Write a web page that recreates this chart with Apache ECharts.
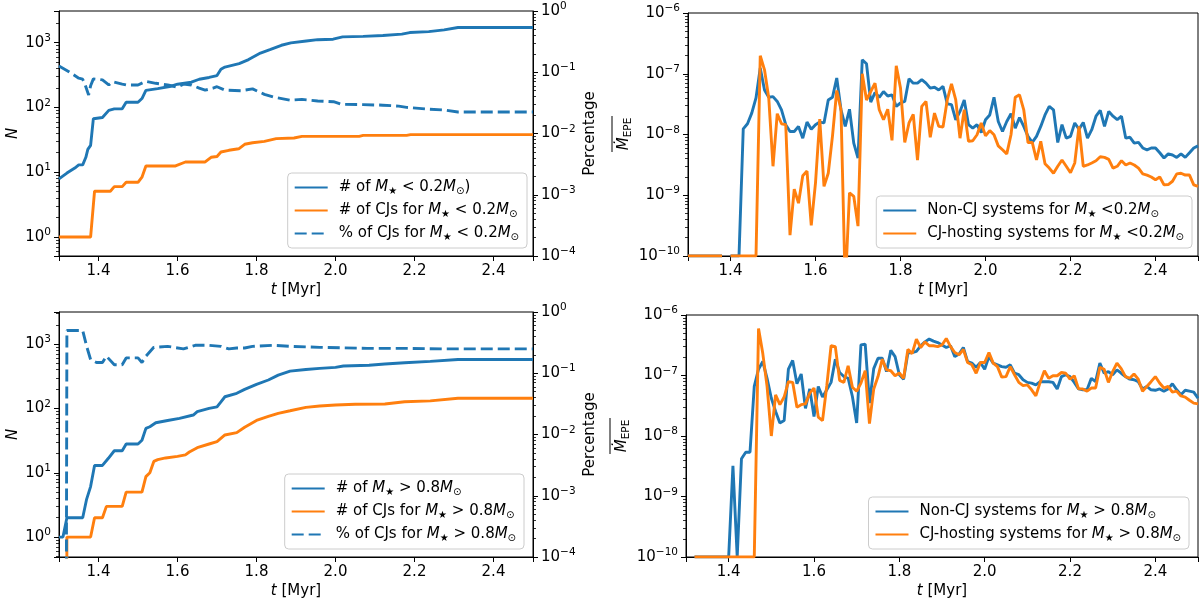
<!DOCTYPE html>
<html>
<head>
<meta charset="utf-8">
<script src="https://cdn.jsdelivr.net/npm/echarts@6/dist/echarts.min.js"></script>
<style>
html,body{margin:0;padding:0;background:#fff}
#chart{width:1200px;height:602px}
</style>
</head>
<body>
<div id="chart"></div>
<script>
// ---------- data ----------
// top-left: M* < 0.2 Msun, [t, value] vertices of the step-like curves
var tlAllT = [1.30,1.32,1.34,1.35,1.36,1.368,1.373,1.38,1.387,1.41,1.426,1.44,1.46,1.47,1.50,1.51,1.52,1.55,1.58,1.60,1.635,1.655,1.68,1.70,1.71,1.72,1.756,1.78,1.81,1.834,1.863,1.887,1.926,1.955,1.994,2.018,2.07,2.12,2.168,2.188,2.236,2.275,2.31,2.50];
var tlAllN = [7.9,9.7,11.6,13,13,17,22.5,26,67,70,90,95,95,120,120,137,183,195,210,228,245,272,290,310,388,420,475,547,690,780,910,990,1060,1110,1130,1225,1250,1290,1350,1430,1480,1570,1710,1710];
var tlCjT = [1.30,1.38,1.39,1.43,1.44,1.46,1.47,1.50,1.51,1.52,1.595,1.62,1.67,1.685,1.70,1.71,1.73,1.755,1.77,1.79,1.82,1.85,1.895,1.915,2.06,2.07,2.18,2.19,2.50];
var tlCjN = [1,1,5.1,5.1,6,6,7,7,8.4,12.5,12.5,14.4,14.4,17,17.5,20.5,21.8,23,27,28.5,30,33,33.8,35.8,35.8,37,37,38,38];
var tlPctT = [1.30,1.325,1.35,1.36,1.367,1.375,1.38,1.387,1.41,1.426,1.436,1.46,1.47,1.50,1.52,1.545,1.575,1.60,1.615,1.635,1.655,1.67,1.69,1.70,1.72,1.76,1.79,1.82,1.845,1.885,1.915,1.955,1.995,2.015,2.07,2.12,2.16,2.18,2.235,2.275,2.31,2.50];
var tlPct = [0.126,0.102,0.08,0.077,0.06,0.0425,0.06,0.078,0.075,0.062,0.070,0.064,0.062,0.062,0.071,0.066,0.062,0.057,0.064,0.062,0.055,0.051,0.055,0.058,0.051,0.050,0.0535,0.0436,0.039,0.035,0.036,0.034,0.033,0.030,0.0296,0.029,0.028,0.0267,0.025,0.0242,0.0224,0.0224];

// bottom-left: M* > 0.8 Msun (1e-30 stands for a zero count, clipped on the log axis)
var blAllT = [1.30,1.31,1.32,1.36,1.37,1.38,1.39,1.41,1.425,1.44,1.46,1.47,1.50,1.51,1.52,1.53,1.545,1.575,1.605,1.64,1.65,1.68,1.70,1.71,1.72,1.75,1.77,1.80,1.83,1.855,1.885,1.925,1.96,2.00,2.02,2.085,2.125,2.175,2.24,2.31,2.50];
var blAllN = [1,1,2,2,3.9,6.1,13,13,16.8,22,22,28,28,32,49,52,60,65,70,79,89,100,106,127,152,172,198,237,277,330,380,404,420,435,457,470,490,513,540,578,578];
var blCjT = [1.31,1.32,1.38,1.39,1.41,1.42,1.46,1.47,1.51,1.52,1.53,1.54,1.55,1.57,1.60,1.62,1.63,1.65,1.68,1.70,1.72,1.75,1.77,1.80,1.83,1.855,1.885,1.925,1.96,2.00,2.05,2.125,2.175,2.24,2.31,2.50];
var blCjN = [1e-30,1,1,2,2,3,3,5,5,8.7,10,15,16,17,18,19,21,24.5,28,30.5,38.7,42,51,65,75,84,92,104,109,113,116,117,127,131,144,144];
var blPctT = [1.31,1.32,1.36,1.37,1.38,1.395,1.41,1.42,1.44,1.46,1.47,1.50,1.51,1.52,1.54,1.575,1.615,1.645,1.68,1.71,1.73,1.75,1.77,1.79,1.84,1.885,1.96,2.08,2.175,2.27,2.50];
var blPct = [1e-30,0.5,0.5,0.275,0.167,0.15,0.15,0.19,0.138,0.138,0.178,0.178,0.15,0.19,0.265,0.275,0.25,0.286,0.286,0.275,0.25,0.258,0.258,0.275,0.286,0.275,0.265,0.255,0.255,0.25,0.25];

// right panels: mean EPE rate sampled every 0.01 Myr
var tGrid = [
  1.30,1.31,1.32,1.33,1.34,1.35,1.36,1.37,1.38,1.39,
  1.40,1.41,1.42,1.43,1.44,1.45,1.46,1.47,1.48,1.49,
  1.50,1.51,1.52,1.53,1.54,1.55,1.56,1.57,1.58,1.59,
  1.60,1.61,1.62,1.63,1.64,1.65,1.66,1.67,1.68,1.69,
  1.70,1.71,1.72,1.73,1.74,1.75,1.76,1.77,1.78,1.79,
  1.80,1.81,1.82,1.83,1.84,1.85,1.86,1.87,1.88,1.89,
  1.90,1.91,1.92,1.93,1.94,1.95,1.96,1.97,1.98,1.99,
  2.00,2.01,2.02,2.03,2.04,2.05,2.06,2.07,2.08,2.09,
  2.10,2.11,2.12,2.13,2.14,2.15,2.16,2.17,2.18,2.19,
  2.20,2.21,2.22,2.23,2.24,2.25,2.26,2.27,2.28,2.29,
  2.30,2.31,2.32,2.33,2.34,2.35,2.36,2.37,2.38,2.39,
  2.40,2.41,2.42,2.43,2.44,2.45,2.46,2.47,2.48,2.49,
  2.50];
var trNonCj = [
  1e-10,1e-10,1e-10,1e-10,1e-10,1e-10,1e-10,1e-10,1e-10,null,
  1e-10,1e-10,1e-10,1.24e-8,1.5e-8,2.25e-8,4e-8,1.24e-7,5.4e-8,4.1e-8,
  4.2e-8,3.5e-8,2.55e-8,1.45e-8,1.12e-8,1.12e-8,1.36e-8,8.7e-9,1.6e-8,1.22e-8,
  1.45e-8,1.6e-8,1.55e-8,3.7e-8,4.1e-8,8.5e-8,2.55e-8,1.36e-8,2.6e-8,7.2e-9,
  4.1e-9,1.7e-7,1.46e-7,3.4e-8,4.9e-8,4.1e-8,5.1e-8,4.3e-8,4.5e-8,2.9e-8,
  3.3e-8,3.5e-8,8.3e-8,7e-8,7e-8,8e-8,7e-8,5.8e-8,6e-8,5.4e-8,
  6.2e-8,3.2e-8,3.1e-8,1.75e-8,2.4e-8,3.7e-8,1.45e-8,1.27e-8,1.45e-8,1.08e-8,
  1.75e-8,2.1e-8,4.1e-8,1.64e-8,1.12e-8,1.64e-8,2.2e-8,1.27e-8,1.9e-8,1.36e-8,
  9.3e-9,7.4e-9,9.3e-9,1.36e-8,2.1e-8,2.9e-8,2.55e-8,7.4e-9,1.45e-8,8.7e-9,
  9.3e-9,1.55e-8,1.22e-8,1.58e-8,8.7e-9,1.2e-8,2e-8,2.5e-8,1.36e-8,2.4e-8,
  2e-8,1.75e-8,2e-8,8.7e-9,9e-9,7.2e-9,7.4e-9,6e-9,5.6e-9,6e-9,
  6e-9,5e-9,4.1e-9,4.8e-9,4.6e-9,4.2e-9,4.8e-9,4.2e-9,5e-9,6e-9,
  6.5e-9];
var trCj = [
  1e-10,1e-10,1e-10,1e-10,1e-10,1e-10,1e-10,1e-10,1e-10,null,
  1e-10,1e-10,1e-10,1e-10,1e-10,1e-10,1e-10,1.98e-7,1.16e-7,4e-8,
  3e-9,2.2e-8,1.5e-8,1.45e-8,2.2e-10,1.26e-9,7.4e-10,2.1e-9,2.5e-9,3.2e-10,
  1.6e-9,1.8e-8,1.4e-9,2.3e-9,9.5e-9,5.3e-8,2.55e-8,3e-11,1.1e-9,9.6e-10,
  3.1e-10,1e-7,3.7e-8,5.1e-8,7e-8,2.55e-8,1.75e-8,2.6e-8,8e-9,1.35e-7,
  5.8e-8,7.4e-9,1.55e-8,2.15e-8,3.8e-9,2.9e-8,3.5e-8,9e-9,2.25e-8,1.36e-8,
  1.33e-8,3.7e-8,6.8e-8,3.7e-8,8.7e-9,2.55e-8,7.7e-9,7.9e-9,9.9e-9,1.55e-8,
  9.5e-9,1.16e-8,9.9e-9,6.5e-9,5.6e-9,4.8e-9,9.9e-9,4.1e-8,4.5e-8,2.55e-8,
  7.4e-9,7.4e-9,3.8e-9,7.7e-9,3.3e-9,2.8e-9,2.3e-9,3e-9,3.8e-9,3e-9,
  2.35e-9,3.4e-9,1.36e-8,3e-9,3.15e-9,3.4e-9,3.7e-9,4.3e-9,4.2e-9,3.9e-9,
  2.8e-9,3e-9,3.7e-9,3.15e-9,3.4e-9,3.15e-9,2.8e-9,2.25e-9,2.15e-9,2e-9,
  1.8e-9,2e-9,1.48e-9,1.5e-9,1.7e-9,2.25e-9,2.3e-9,2.15e-9,2.15e-9,1.48e-9,
  1.4e-9];
var brNonCj = [
  null,null,1e-10,1e-10,1e-10,1e-10,1e-10,1e-10,1e-10,1e-10,
  1e-10,3.2e-9,1e-10,4.2e-9,5.4e-9,5.4e-9,6.6e-8,1.27e-7,1.7e-7,9e-8,
  4.2e-8,2.55e-8,1.64e-8,1.8e-8,1.27e-7,1.77e-7,7.3e-8,1.06e-7,2.86e-8,6e-8,
  2.1e-8,6.6e-8,4.4e-8,5.8e-8,7.7e-8,1.86e-7,1.12e-7,9.6e-8,9e-8,4.5e-8,
  1.64e-8,3.2e-7,3.3e-7,3.5e-8,1.3e-7,1.93e-7,1.93e-7,1.16e-7,2.6e-7,2.05e-7,
  1.03e-7,8.7e-8,2.35e-7,2.4e-7,2.5e-7,3.1e-7,3.6e-7,4e-7,3.7e-7,3.5e-7,
  3.2e-7,2.9e-7,3.1e-7,2.05e-7,2.27e-7,2.9e-7,1.7e-7,1.6e-7,1.37e-7,1.64e-7,
  1.27e-7,2.05e-7,1.6e-7,1.5e-7,1.4e-7,1.37e-7,1.5e-7,1.09e-7,1.03e-7,8.5e-8,
  7.7e-8,7.5e-8,7e-8,7.9e-8,7.9e-8,7.9e-8,7.7e-8,6e-8,9.6e-8,1.03e-7,
  9.6e-8,7.7e-8,6e-8,5.8e-8,5.8e-8,9e-8,7.9e-8,1.6e-7,1.09e-7,1.16e-7,
  1.03e-7,1.24e-7,1.09e-7,9.6e-8,8.7e-8,8.5e-8,7.9e-8,6e-8,6.6e-8,5.8e-8,
  5.7e-8,6e-8,5.5e-8,6e-8,7.3e-8,5.8e-8,4.8e-8,5.7e-8,5.5e-8,5.3e-8,
  4.2e-8];
var brCj = [
  null,null,1e-10,1e-10,1e-10,1e-10,1e-10,1e-10,1e-10,1e-10,
  1e-10,1e-10,1e-10,1e-10,1e-10,1e-10,1e-10,6e-7,2.3e-7,6.6e-8,
  1e-8,4.8e-8,3.3e-8,4.4e-8,7.9e-8,7.7e-8,3e-8,3.3e-8,3.4e-8,5.1e-8,
  6.2e-8,2.05e-8,1.8e-8,6.8e-8,3.1e-7,3e-7,8.3e-8,7.7e-8,1.45e-7,6.4e-8,
  5.5e-8,7.5e-8,1.2e-7,1.6e-8,6e-8,9.6e-8,1.86e-7,1.24e-7,1.2e-7,9.9e-8,
  1.1e-7,9e-8,2.7e-7,2.3e-7,4e-7,2.9e-7,3.6e-7,3.1e-7,3.1e-7,3e-7,
  3.2e-7,4.1e-7,3e-7,2.4e-7,2.2e-7,2.7e-7,1.64e-7,1.5e-7,1.09e-7,1.64e-7,
  1.64e-7,2.4e-7,1.6e-7,1.4e-7,9.4e-8,9.6e-8,1.4e-7,1.03e-7,7.7e-8,6.8e-8,
  7e-8,5.8e-8,4.6e-8,7.7e-8,1.2e-7,9e-8,9.9e-8,9.9e-8,1.12e-7,1.09e-7,
  8.7e-8,9.9e-8,6e-8,6e-8,5.5e-8,6.2e-8,6.2e-8,1.37e-7,1.27e-7,7.7e-8,
  1.16e-7,1.6e-7,1.3e-7,9.6e-8,9e-8,1.06e-7,8.7e-8,5.5e-8,6.6e-8,7.9e-8,
  9.6e-8,7.5e-8,6.2e-8,6.6e-8,5.3e-8,5.5e-8,4.6e-8,4.4e-8,3.9e-8,3.5e-8,
  3.4e-8];

// legend texts (rich text: i = italic M, s = subscript)
var legendText = {
  tlAll: '{g| }# of {i|M}{s|\u2605} < 0.2{i|M}{s|\u2299})',
  tlCj:  '{g| }# of CJs for {i|M}{s|\u2605} < 0.2{i|M}{s|\u2299}',
  tlPct: '{g| }% of CJs for {i|M}{s|\u2605} < 0.2{i|M}{s|\u2299}',
  trNon: '{g| }Non-CJ systems for {i|M}{s|\u2605} <0.2{i|M}{s|\u2299}',
  trCj:  '{g| }CJ-hosting systems for {i|M}{s|\u2605} <0.2{i|M}{s|\u2299}',
  blAll: '{g| }# of {i|M}{s|\u2605} > 0.8{i|M}{s|\u2299}',
  blCj:  '{g| }# of CJs for {i|M}{s|\u2605} > 0.8{i|M}{s|\u2299}',
  blPct: '{g| }% of CJs for {i|M}{s|\u2605} > 0.8{i|M}{s|\u2299}',
  brNon: '{g| }Non-CJ systems for {i|M}{s|\u2605} > 0.8{i|M}{s|\u2299}',
  brCj:  '{g| }CJ-hosting systems for {i|M}{s|\u2605} > 0.8{i|M}{s|\u2299}'
};

// ---------- helpers ----------
var BLUE = '#1f77b4', ORANGE = '#ff7f0e';
var FONT = 'DejaVu Sans';

function zip(xs, ys) {
  var out = [];
  for (var i = 0; i < xs.length; i++) out.push([xs[i], ys[i]]);
  return out;
}

// "10^k" labels only on whole decades
function powLabel(v) {
  var e = Math.log(v) / Math.LN10;
  var r = Math.round(e);
  if (Math.abs(e - r) > 1e-6) return '';
  return '{b|10}{p|' + (r < 0 ? '\u2212' + (-r) : r) + '}';
}
var powRich = {
  b: {fontSize: 15, lineHeight: 20, fontFamily: FONT, color: '#000'},
  p: {fontSize: 10.5, lineHeight: 12, verticalAlign: 'top', fontFamily: FONT, color: '#000'}
};

function xLabel(v) {
  var k = Math.round(v * 5);
  if (Math.abs(v * 5 - k) > 1e-6 || v < 1.35 || v > 2.45) return '';
  return v.toFixed(1);
}

var tickStyle = {show: true, length: 5, lineStyle: {color: '#000', width: 1}};
var lineAx = {show: true, onZero: false, lineStyle: {color: '#000', width: 1}};

function makeX(g) {
  return {
    type: 'value', gridIndex: g, min: 1.3, max: 2.5,
    name: '{i|t} [Myr]', nameLocation: 'middle', nameGap: 27,
    nameTextStyle: {fontSize: 15, color: '#000', fontFamily: FONT,
      rich: {i: {fontStyle: 'italic', fontSize: 15, fontFamily: FONT, color: '#000'}}},
    axisLine: lineAx, axisTick: tickStyle, splitLine: {show: false},
    axisLabel: {fontSize: 15, color: '#000', fontFamily: FONT, margin: 8, formatter: xLabel}
  };
}

function makeLogY(g, min, max, pos, name, gap) {
  return {
    type: 'log', logBase: 10, gridIndex: g, min: min, max: max, position: pos,
    name: name, nameLocation: 'middle', nameRotate: 90, nameGap: gap,
    nameTextStyle: {fontSize: 15, color: '#000', fontFamily: FONT,
      fontStyle: name === 'N' ? 'italic' : 'normal'},
    axisLine: lineAx, axisTick: tickStyle, splitLine: {show: false},
    minorTick: {show: true, splitNumber: 9, length: 3, lineStyle: {color: '#000', width: 0.8}},
    axisLabel: {margin: 8, formatter: powLabel, rich: powRich}
  };
}

function makeLine(name, x, y, data, color, dashed) {
  return {
    name: name, type: 'line', xAxisIndex: x, yAxisIndex: y, data: data,
    showSymbol: false, symbol: 'none', connectNulls: false, clip: true,
    lineStyle: {color: color, width: 2.9, type: dashed ? [12, 5] : 'solid'},
    itemStyle: {color: color}
  };
}

function makeLegend(names, right, bottom) {
  return {
    data: names, orient: 'vertical', right: right, bottom: bottom,
    itemWidth: 33, itemHeight: 12, itemGap: 6, padding: [6, 8, 6, 6],
    itemStyle: {opacity: 0},
    backgroundColor: 'rgba(255,255,255,0.8)', borderColor: '#cccccc', borderWidth: 1, borderRadius: 4,
    selectedMode: false,
    formatter: function (n) { return legendText[n]; },
    textStyle: {fontSize: 15, lineHeight: 17, color: '#000', fontFamily: FONT,
      rich: {
        g: {width: 6, fontSize: 15, lineHeight: 17},
        i: {fontStyle: 'italic', fontSize: 15, lineHeight: 17, fontFamily: FONT, color: '#000'},
        s: {fontSize: 10, lineHeight: 10, verticalAlign: 'bottom', fontFamily: FONT, color: '#000'}
      }}
  };
}

// Mdot_EPE label with overline, rotated like a y-axis title
function mdotLabel(cx, cy) {
  return {
    type: 'group', x: cx, y: cy, rotation: Math.PI / 2,
    children: [
      {type: 'text', x: 0, y: 0, style: {
        text: '{m|\u1E40}{e|EPE}', align: 'center', verticalAlign: 'middle', fill: '#000',
        rich: {
          m: {fontSize: 15, fontStyle: 'italic', fontFamily: FONT, lineHeight: 20, fill: '#000'},
          e: {fontSize: 10.5, fontFamily: FONT, lineHeight: 10, verticalAlign: 'bottom', fill: '#000'}
        }}},
      {type: 'line', shape: {x1: -18, y1: -12, x2: 18, y2: -12}, style: {stroke: '#000', lineWidth: 1}}
    ]
  };
}

var gridStyle = {show: true, borderColor: '#000', borderWidth: 1, backgroundColor: 'transparent', outerBoundsMode: 'none'};
function makeGrid(l, t, w, h) {
  return Object.assign({left: l, top: t, width: w, height: h}, gridStyle);
}

// ---------- option ----------
var option = {
  animation: false,
  backgroundColor: '#fff',
  textStyle: {fontFamily: FONT},
  grid: [
    makeGrid(59, 11, 474, 245),
    makeGrid(688, 13, 510, 243),
    makeGrid(59, 312, 474, 245),
    makeGrid(686, 315, 512, 242)
  ],
  xAxis: [makeX(0), makeX(1), makeX(2), makeX(3)],
  yAxis: [
    makeLogY(0, 0.51, 3075, 'left', 'N', 38),
    makeLogY(0, 1e-4, 1, 'right', 'Percentage', 50),
    makeLogY(1, 1e-10, 1e-6, 'left', '', 40),
    makeLogY(2, 0.49, 3160, 'left', 'N', 38),
    makeLogY(2, 1e-4, 1, 'right', 'Percentage', 50),
    makeLogY(3, 1e-10, 1e-6, 'left', '', 40)
  ],
  legend: [
    makeLegend(['tlAll', 'tlCj', 'tlPct'], 673, 354),
    makeLegend(['trNon', 'trCj'], 8, 354),
    makeLegend(['blAll', 'blCj', 'blPct'], 676, 53),
    makeLegend(['brNon', 'brCj'], 11, 53)
  ],
  series: [
    makeLine('tlAll', 0, 0, zip(tlAllT, tlAllN), BLUE, false),
    makeLine('tlCj', 0, 0, zip(tlCjT, tlCjN), ORANGE, false),
    makeLine('tlPct', 0, 1, zip(tlPctT, tlPct), BLUE, true),
    makeLine('trNon', 1, 2, zip(tGrid, trNonCj), BLUE, false),
    makeLine('trCj', 1, 2, zip(tGrid, trCj), ORANGE, false),
    makeLine('blAll', 2, 3, zip(blAllT, blAllN), BLUE, false),
    makeLine('blCj', 2, 3, zip(blCjT, blCjN), ORANGE, false),
    makeLine('blPct', 2, 4, zip(blPctT, blPct), BLUE, true),
    makeLine('brNon', 3, 5, zip(tGrid, brNonCj), BLUE, false),
    makeLine('brCj', 3, 5, zip(tGrid, brCj), ORANGE, false)
  ],
  graphic: [mdotLabel(624, 134), mdotLabel(622, 436)]
};

var chart = echarts.init(document.getElementById('chart'));
chart.setOption(option);
</script>
</body>
</html>
